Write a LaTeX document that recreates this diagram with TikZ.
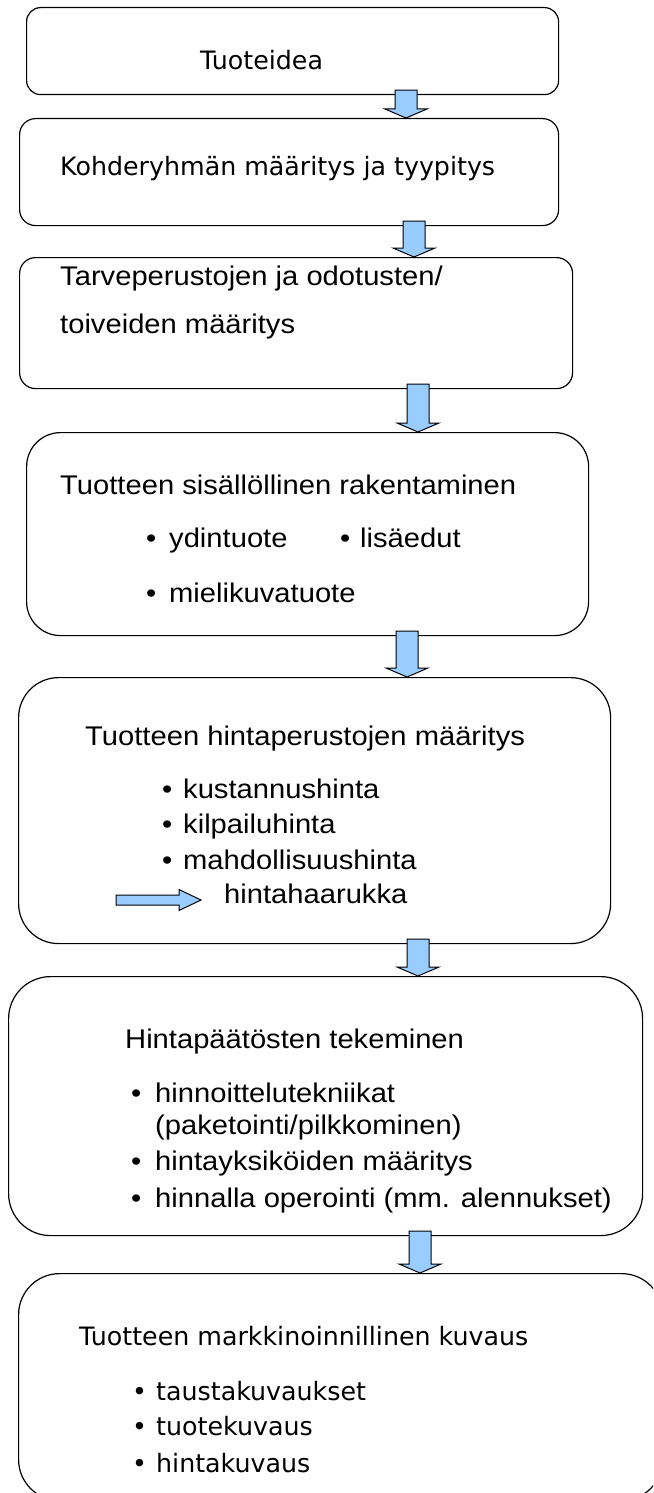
\documentclass[tikz,border=0pt]{standalone}
\usepackage{fontspec}
\setmainfont[FakeStretch=1.08]{Liberation Sans}
\newfontfamily\humfont{DejaVu Sans}
\usepackage{tikz}
\usetikzlibrary{calc}
\definecolor{arrowblue}{RGB}{153,204,255}
\tikzset{
  stepbox/.style={draw, line width=1.2pt, rounded corners=#1, inner sep=0pt, anchor=north west},
  arrowfill/.style={fill=arrowblue, draw=black, line width=1pt, line join=miter},
  txt/.style={anchor=base west, inner sep=0pt, font=\fontsize{27}{32}\selectfont},
  humtxt/.style={anchor=base west, inner sep=0pt, font=\humfont\fontsize{25.3}{30}\selectfont},
}
% block arrow from one box down to the next, at a given x
\newcommand{\flowarrow}[3]{%
  \coordinate (ax) at (#3,0);
  \filldraw[arrowfill] ($(ax|-#1.south)+(-11,-5)$) -- ($(ax|-#1.south)+(11,-5)$)
    -- ($(ax|-#2.north)+(11,-9)$) -- ($(ax|-#2.north)+(21,-9)$) -- (ax|-#2.north)
    -- ($(ax|-#2.north)+(-21,-9)$) -- ($(ax|-#2.north)+(-11,-9)$) -- cycle;}

\begin{document}
\begin{tikzpicture}[x=1pt,y=-1pt]
  \useasboundingbox (0,0) rectangle (653,1493);
  \fill[white] (0,0) rectangle (653,1493);
  \clip (0,0) rectangle (653,1493);

  % boxes
  \node[stepbox=14pt, minimum width=532pt, minimum height=87pt] (idea) at (26,7) {};
  \node[stepbox=16pt, minimum width=539pt, minimum height=107pt] (kohde) at (19,118) {};
  \node[stepbox=16pt, minimum width=553pt, minimum height=131pt] (tarve) at (19,257) {};
  \node[stepbox=34pt, minimum width=562pt, minimum height=203pt] (sisalto) at (26,432) {};
  \node[stepbox=40pt, minimum width=592pt, minimum height=266pt] (hintaper) at (18,677) {};
  \node[stepbox=42pt, minimum width=634pt, minimum height=259pt] (hintapaat) at (8,976) {};
  \node[stepbox=41pt, minimum width=644pt, minimum height=227pt] (markk) at (18,1273) {};

  % arrows
  \flowarrow{idea}{kohde}{406}
  \flowarrow{kohde}{tarve}{414}
  \flowarrow{tarve}{sisalto}{418}
  \flowarrow{sisalto}{hintaper}{407}
  \flowarrow{hintaper}{hintapaat}{418}
  \flowarrow{hintapaat}{markk}{420}

  % texts
  \node[humtxt] (ideat) at (200,70) {Tuoteidea};
  \node[humtxt] (kohdet) at (60,175) {Kohderyhmän määritys ja tyypitys};
  \node[txt] (tarvet1) at (60,285) {Tarveperustojen ja odotusten/};
  \node[txt] (tarvet2) at (60,333) {toiveiden määritys};

  \node[txt] (sisaltot) at (60,494) {Tuotteen sisällöllinen rakentaminen};
  \node[txt] (sb1) at (146,547) {\textbullet};
  \node[txt] (st1) at (169,547) {ydintuote};
  \node[txt] (sb2) at (340,547) {\textbullet};
  \node[txt] (st2) at (360,547) {lisäedut};
  \node[txt] (sb3) at (146,602) {\textbullet};
  \node[txt] (st3) at (169,602) {mielikuvatuote};

  \node[txt] (hintapert) at (85,745) {Tuotteen hintaperustojen määritys};
  \foreach \y/\t [count=\i] in {798/kustannushinta,833/kilpailuhinta,869/mahdollisuushinta}{
    \node[txt] (hb\i) at (162,\y) {\textbullet};
    \node[txt] (ht\i) at (183,\y) {\t};
  }
  \coordinate (hs) at (116,900);
  \coordinate (he) at (201,900);
  \filldraw[arrowfill] ($(hs)+(0,-5)$) -- ($(he)+(-22,-5)$) -- ($(he)+(-22,-10.5)$) -- (he)
    -- ($(he)+(-22,10.5)$) -- ($(he)+(-22,5)$) -- ($(hs)+(0,5)$) -- cycle;
  \node[txt] (haarukka) at (224,903) {hintahaarukka};

  \node[txt] (paatt) at (125,1048) {Hintapäätösten tekeminen};
  \foreach \y/\t [count=\i] in {1102/hinnoittelutekniikat,1170/hintayksiköiden määritys,1207/hinnalla operointi (mm. alennukset)}{
    \node[txt] (pb\i) at (131,\y) {\textbullet};
    \node[txt] (pt\i) at (155,\y) {\t};
  }
  \node[txt] (paketointi) at (155,1134) {(paketointi/pilkkominen)};

  \node[humtxt] (markkt) at (79,1345) {Tuotteen markkinoinnillinen kuvaus};
  \foreach \y/\t [count=\i] in {1400/taustakuvaukset,1435/tuotekuvaus,1472/hintakuvaus}{
    \node[humtxt] (mb\i) at (132,\y) {\textbullet};
    \node[humtxt] (mt\i) at (156,\y) {\t};
  }
\end{tikzpicture}
\end{document}
